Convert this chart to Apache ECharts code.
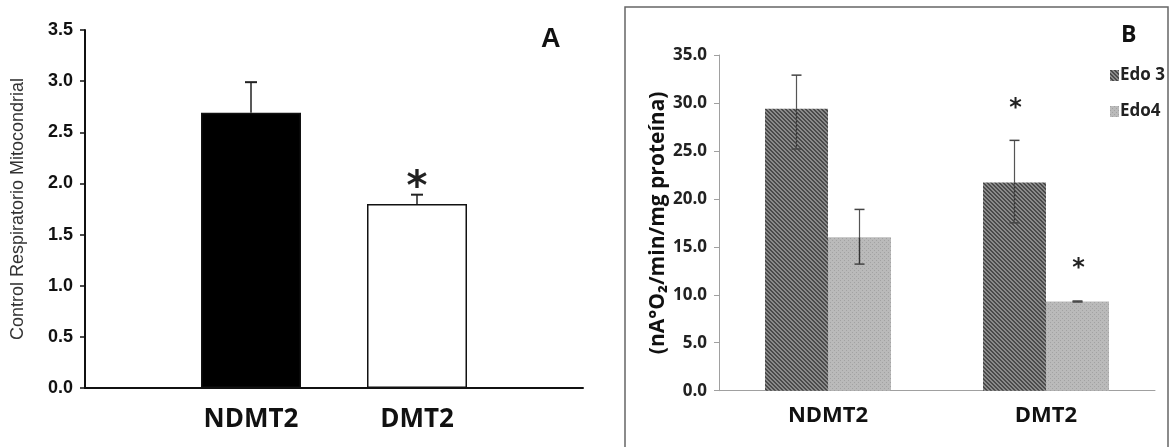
<!DOCTYPE html>
<html>
<head>
<meta charset="utf-8">
<script src="https://cdn.jsdelivr.net/npm/echarts@6/dist/echarts.min.js"></script>
<style>
  html, body { margin: 0; padding: 0; background: #fff; }
  #chart { width: 1173px; height: 447px; }
</style>
</head>
<body>
<div id="chart"></div>
<script>
// panel A
const categoriesA = ['', 'NDMT2', 'DMT2', '']
const valuesA = [null, 2.69, 1.80, null]
const errHighA = [null, 2.99, 1.89, null]
const sigA = ['', '', '*', '']
const ticksA = { min: 0, max: 3.5, interval: 0.5 }

// panel B
const categoriesB = ['NDMT2', 'DMT2']
const edo3 = [29.4, 21.7]
const edo3Low = [25.2, 17.5]
const edo3High = [32.9, 26.1]
const edo4 = [16.0, 9.3]
const edo4Low = [13.2, 9.25]
const edo4High = [18.9, 9.35]
const sigEdo3 = ['', '*']
const sigEdo4 = ['', '*']
const ticksB = { min: 0, max: 35, interval: 5 }

const fillA = ['#000', '#000', '#fff', '#fff']
const barWB = 63

function pattern (bg, fg, diag) {
  const c = document.createElement('canvas')
  c.width = 4
  c.height = 4
  const ctx = c.getContext('2d')
  ctx.fillStyle = bg
  ctx.fillRect(0, 0, 4, 4)
  ctx.fillStyle = fg
  for (let i = 0; i < 4; i++) {
    if (diag) {
      ctx.fillRect(i, i, 1, 1)
      ctx.fillRect((i + 1) % 4, i, 1, 1)
    } else if (i % 2 === 0) {
      ctx.fillRect((i * 3) % 4, i, 1, 1)
    }
  }
  return { image: c, repeat: 'repeat' }
}

const hatchEdo3 = pattern('#8a8a8a', '#4a4a4a', true)
const dotsEdo4 = pattern('#bababa', '#a2a2a2', false)

// error bar for panel A: only the upper whisker
function errorA (params, api) {
  const i = api.value(0)
  const top = api.coord([i, api.value(1)])
  const hi = api.coord([i, api.value(2)])
  const x = top[0]
  const children = [
    { type: 'line', shape: { x1: x, y1: top[1], x2: x, y2: hi[1] }, style: { stroke: '#222', lineWidth: 1.5 } },
    { type: 'line', shape: { x1: x - 6, y1: hi[1], x2: x + 6, y2: hi[1] }, style: { stroke: '#222', lineWidth: 2 } }
  ]
  const s = sigA[i]
  if (s) {
    children.push({ type: 'text', style: { text: s, x: x, y: hi[1] + 14, align: 'center', verticalAlign: 'bottom', fontSize: 40, fontWeight: 'bold', fontFamily: 'DejaVu Sans', fill: '#222' } })
  }
  return { type: 'group', children: children }
}

function errorB (offset, sig, innerDash) {
  return function (params, api) {
    const i = api.value(0)
    const v = api.coord([i, api.value(1)])
    const lo = api.coord([i, api.value(2)])
    const hi = api.coord([i, api.value(3)])
    const x = v[0] + offset
    const children = [
      { type: 'line', shape: { x1: x, y1: v[1], x2: x, y2: hi[1] }, style: { stroke: '#555', lineWidth: 1.2 } },
      { type: 'line', shape: { x1: x, y1: v[1], x2: x, y2: lo[1] }, style: { stroke: '#333', lineWidth: 1.4, lineDash: innerDash ? [2, 2] : null } },
      { type: 'line', shape: { x1: x - 5, y1: hi[1], x2: x + 5, y2: hi[1] }, style: { stroke: '#444', lineWidth: 1.5 } },
      { type: 'line', shape: { x1: x - 5, y1: lo[1], x2: x + 5, y2: lo[1] }, style: { stroke: '#444', lineWidth: 1.5 } }
    ]
    const s = sig[i]
    if (s) {
      children.push({ type: 'text', style: { text: s, x: x + 1, y: hi[1] - 20, align: 'center', verticalAlign: 'bottom', fontSize: 24, fontWeight: 'bold', fontFamily: 'DejaVu Sans', fill: '#222' } })
    }
    return { type: 'group', children: children }
  }
}

const chart = echarts.init(document.getElementById('chart'), null, { renderer: 'canvas' })

chart.setOption({
  animation: false,
  backgroundColor: '#fff',
  textStyle: { fontFamily: 'Open Sans' },
  graphic: [
    { type: 'rect', shape: { x: 625, y: 7, width: 543, height: 460 }, style: { fill: 'none', stroke: '#666', lineWidth: 1.5 } },
    { type: 'text', left: 541, top: 26, style: { text: 'A', fontSize: 27, fontWeight: 'bold', fontFamily: 'Liberation Sans', fill: '#111' } },
    { type: 'text', left: 1121, top: 24, style: { text: 'B', fontSize: 23, fontWeight: 'bold', fontFamily: 'Open Sans', fill: '#111' } }
  ],
  legend: {
    data: ['Edo 3', 'Edo4'],
    orient: 'vertical',
    left: 1105,
    top: 62,
    itemWidth: 9,
    itemHeight: 11,
    itemGap: 19,
    itemStyle: { borderWidth: 0 },
    icon: 'rect',
    textStyle: { fontSize: 17, fontWeight: 'bold', color: '#222', fontFamily: 'Open Sans', padding: [0, 0, 0, -4] }
  },
  grid: [
    { left: 85, right: 590, top: 30, bottom: 59 },
    { left: 719, right: 18, top: 55, bottom: 56.3 }
  ],
  xAxis: [{
    gridIndex: 0,
    type: 'category',
    data: categoriesA,
    boundaryGap: false,
    axisLine: { lineStyle: { color: '#111', width: 2 } },
    axisTick: { show: false },
    axisLabel: { margin: 19, fontSize: 26, fontWeight: 'bold', color: '#111', fontFamily: 'Open Sans' }
  }, {
    gridIndex: 1,
    type: 'category',
    data: categoriesB,
    axisLine: { lineStyle: { color: '#a0a0a0', width: 1 } },
    axisTick: { length: 6, lineStyle: { color: '#a0a0a0' } },
    axisLabel: { margin: 14, fontSize: 22, fontWeight: 'bold', color: '#111', fontFamily: 'Open Sans' }
  }],
  yAxis: [{
    gridIndex: 0,
    type: 'value',
    min: ticksA.min,
    max: ticksA.max,
    interval: ticksA.interval,
    name: 'Control Respiratorio Mitocondrial',
    nameLocation: 'middle',
    nameGap: 58,
    nameTextStyle: { fontSize: 18, color: '#333', fontFamily: 'Liberation Sans' },
    axisLine: { show: true, lineStyle: { color: '#111', width: 2 } },
    axisTick: { show: true, length: 5, lineStyle: { color: '#111', width: 1.5 } },
    splitLine: { show: false },
    axisLabel: { margin: 12, fontSize: 18, fontWeight: 'bold', color: '#111', fontFamily: 'Liberation Sans', formatter: v => v.toFixed(1) }
  }, {
    gridIndex: 1,
    type: 'value',
    min: ticksB.min,
    max: ticksB.max,
    interval: ticksB.interval,
    name: '(nA°O₂/min/mg proteína)',
    nameLocation: 'middle',
    nameGap: 50,
    nameTextStyle: { fontSize: 21, fontWeight: 'bold', color: '#111', fontFamily: 'Open Sans' },
    axisLine: { show: true, lineStyle: { color: '#a0a0a0', width: 1 } },
    axisTick: { show: true, length: 5, lineStyle: { color: '#a0a0a0' } },
    splitLine: { show: false },
    axisLabel: { margin: 12, fontSize: 17, fontWeight: 'bold', color: '#222', fontFamily: 'Open Sans', formatter: v => v.toFixed(1) }
  }],
  series: [{
    type: 'bar',
    xAxisIndex: 0,
    yAxisIndex: 0,
    barWidth: 100,
    data: valuesA.map((v, i) => ({ value: v, itemStyle: { color: fillA[i], borderColor: '#111', borderWidth: 1.5 } }))
  }, {
    type: 'custom',
    xAxisIndex: 0,
    yAxisIndex: 0,
    z: 5,
    renderItem: errorA,
    encode: { x: 0, y: 1 },
    data: valuesA.map((v, i) => [i, v, errHighA[i]]).filter(d => d[1] !== null)
  }, {
    name: 'Edo 3',
    type: 'bar',
    xAxisIndex: 1,
    yAxisIndex: 1,
    barWidth: barWB,
    barGap: '0%',
    itemStyle: { color: hatchEdo3 },
    data: edo3
  }, {
    name: 'Edo4',
    type: 'bar',
    xAxisIndex: 1,
    yAxisIndex: 1,
    barWidth: barWB,
    barGap: '0%',
    itemStyle: { color: dotsEdo4 },
    data: edo4
  }, {
    type: 'custom',
    xAxisIndex: 1,
    yAxisIndex: 1,
    z: 5,
    renderItem: errorB(-barWB / 2, sigEdo3, true),
    encode: { x: 0, y: 1 },
    data: categoriesB.map((c, i) => [i, edo3[i], edo3Low[i], edo3High[i]])
  }, {
    type: 'custom',
    xAxisIndex: 1,
    yAxisIndex: 1,
    z: 5,
    renderItem: errorB(barWB / 2, sigEdo4, false),
    encode: { x: 0, y: 1 },
    data: categoriesB.map((c, i) => [i, edo4[i], edo4Low[i], edo4High[i]])
  }]
})
</script>
</body>
</html>
